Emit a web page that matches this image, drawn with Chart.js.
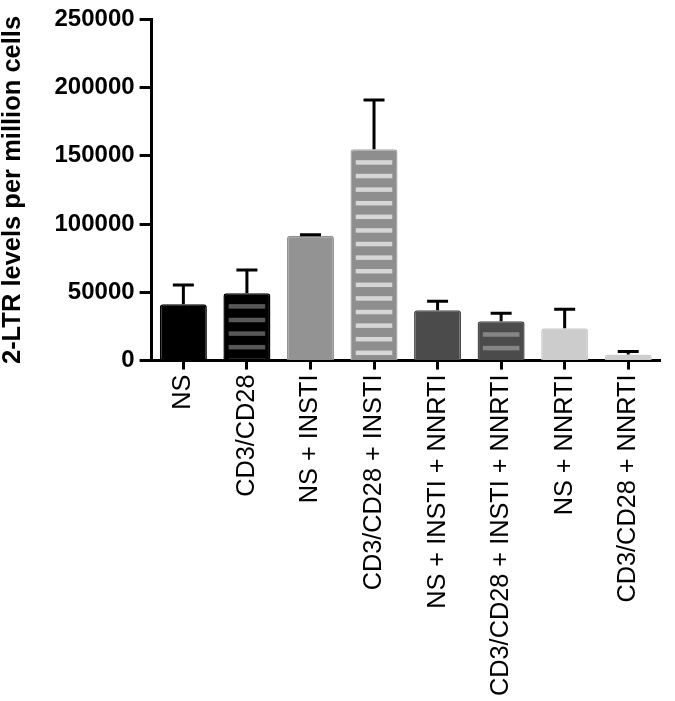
<!DOCTYPE html>
<html>
<head>
<meta charset="utf-8">
<script src="https://cdn.jsdelivr.net/npm/chart.js@4.4.1/dist/chart.umd.min.js"></script>
<style>
  html, body { margin: 0; padding: 0; background: #fff; }
  canvas { display: block; }
</style>
</head>
<body>
<canvas id="myChart" width="675" height="701"></canvas>
<script>
// данные
const categories = ['NS', 'CD3/CD28', 'NS + INSTI', 'CD3/CD28 + INSTI', 'NS + INSTI + NNRTI', 'CD3/CD28 + INSTI + NNRTI', 'NS + NNRTI', 'CD3/CD28 + NNRTI']
const means = [41300, 49400, 91400, 154900, 36900, 28800, 23600, 4400]
const errors = [14000, 17000, 800, 36100, 6600, 5900, 14000, 2200]
const fills = ['#000000', '#000000', '#939393', '#8e8e8e', '#4b4b4b', '#4b4b4b', '#cccccc', '#cdcdcd']
const stripes = [null, '#575757', null, '#d6d6d6', null, '#858585', null, null]
const yTicks = [0, 50000, 100000, 150000, 200000, 250000]

// полоски внутри столбцов
const stripePlugin = {
  id: 'stripes',
  afterDatasetsDraw(chart) {
    const ctx = chart.ctx
    const meta = chart.getDatasetMeta(0)
    meta.data.forEach((bar, i) => {
      if (!stripes[i]) return
      const left = bar.x - bar.width / 2 + 5
      const w = bar.width - 10
      const bottom = bar.base - 1
      ctx.save()
      ctx.beginPath()
      ctx.rect(left, bar.y, w, bottom - bar.y)
      ctx.clip()
      ctx.fillStyle = stripes[i]
      for (let y = bar.y + 11; y < bottom; y += 13.6) {
        ctx.fillRect(left, y, w, 4.5)
      }
      ctx.restore()
    })
  }
}

// планки погрешностей (только вверх)
const errorPlugin = {
  id: 'errorBars',
  afterDatasetsDraw(chart) {
    const ctx = chart.ctx
    const yScale = chart.scales.y
    const meta = chart.getDatasetMeta(0)
    ctx.save()
    ctx.strokeStyle = '#000'
    ctx.lineWidth = 3
    meta.data.forEach((bar, i) => {
      const top = yScale.getPixelForValue(means[i] + errors[i])
      ctx.beginPath()
      ctx.moveTo(bar.x, bar.y)
      ctx.lineTo(bar.x, top)
      ctx.moveTo(bar.x - 10.5, top)
      ctx.lineTo(bar.x + 10.5, top)
      ctx.stroke()
    })
    ctx.restore()
  }
}

new Chart(document.getElementById('myChart'), {
  type: 'bar',
  data: {
    labels: categories,
    datasets: [{
      data: means,
      backgroundColor: fills,
      borderColor: fills.map((c, i) => i === 3 ? '#a9a9a9' : c),
      borderWidth: 1.5,
      borderRadius: 3,
      borderSkipped: 'bottom',
      categoryPercentage: 1,
      barPercentage: 0.74
    }]
  },
  options: {
    responsive: false,
    animation: false,
    events: [],
    layout: { padding: { top: 9, right: 15, bottom: 0, left: 0 } },
    plugins: {
      legend: { display: false },
      tooltip: { enabled: false }
    },
    scales: {
      x: {
        grid: {
          offset: false,
          drawOnChartArea: false,
          drawTicks: true,
          tickLength: 9,
          tickWidth: 3,
          tickColor: '#000'
        },
        border: { color: '#000', width: 3 },
        ticks: {
          color: '#000',
          minRotation: 90,
          maxRotation: 90,
          padding: 5,
          font: { family: '"Liberation Sans", Arial, sans-serif', size: 25.3 }
        }
      },
      y: {
        min: 0,
        max: 250000,
        afterBuildTicks(axis) {
          axis.ticks = yTicks.map(v => ({ value: v }))
        },
        grid: {
          drawOnChartArea: false,
          drawTicks: true,
          tickLength: 12,
          tickWidth: 3,
          tickColor: '#000'
        },
        border: { color: '#000', width: 3 },
        ticks: {
          color: '#000',
          padding: 5,
          callback: v => String(v),
          font: { family: '"Liberation Sans", Arial, sans-serif', size: 24, weight: 'bold' }
        },
        title: {
          display: true,
          text: '2-LTR levels per million cells',
          color: '#000',
          padding: { top: 0, bottom: 24 },
          font: { family: '"Liberation Sans", Arial, sans-serif', size: 25.5, weight: 'bold', lineHeight: 1 }
        }
      }
    }
  },
  plugins: [stripePlugin, errorPlugin]
})
</script>
</body>
</html>
